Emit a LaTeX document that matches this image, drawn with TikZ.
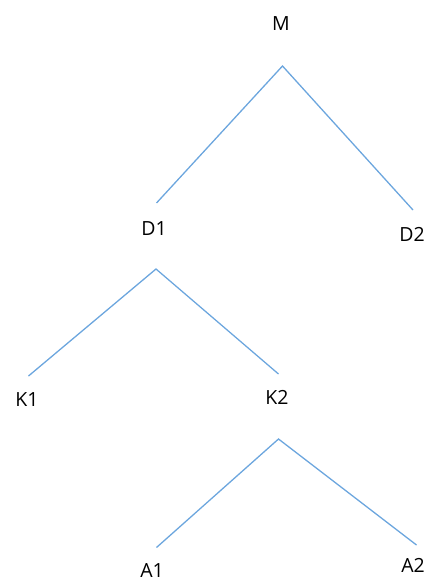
\documentclass[tikz,border=0pt]{standalone}
\usepackage{fontspec}
\setmainfont{Open Sans}
\definecolor{edgeblue}{HTML}{6CA6DE}
\begin{document}
\begin{tikzpicture}[x=1pt,y=-1pt,
  lbl/.style={anchor=base,inner sep=0pt,font=\fontsize{19.5}{22}\selectfont},
  edge/.style={draw=edgeblue,line width=1.3pt}]
\useasboundingbox (0,0) rectangle (433,583);
% labels
\node[lbl] (M)  at (281,31)  {M};
\node[lbl] (D1) at (154,235) {D1};
\node[lbl] (D2) at (412,241) {D2};
\node[lbl] (K1) at (27,406)  {K1};
\node[lbl] (K2) at (277,404) {K2};
\node[lbl] (A1) at (152,577) {A1};
\node[lbl] (A2) at (413,572) {A2};
% junction points and line ends
\coordinate (Mj)  at (282.5,66);
\coordinate (D1i) at (156.5,203);
\coordinate (D2i) at (413,210);
\coordinate (D1j) at (156,269);
\coordinate (K1i) at (28.5,376);
\coordinate (K2i) at (278.5,374);
\coordinate (K2j) at (278.5,439);
\coordinate (A1i) at (156.5,547.5);
\coordinate (A2i) at (416.5,545);
% connectors
\draw[edge] (D1i) -- (Mj) -- (D2i);
\draw[edge] (K1i) -- (D1j) -- (K2i);
\draw[edge] (A1i) -- (K2j) -- (A2i);
\end{tikzpicture}
\end{document}
